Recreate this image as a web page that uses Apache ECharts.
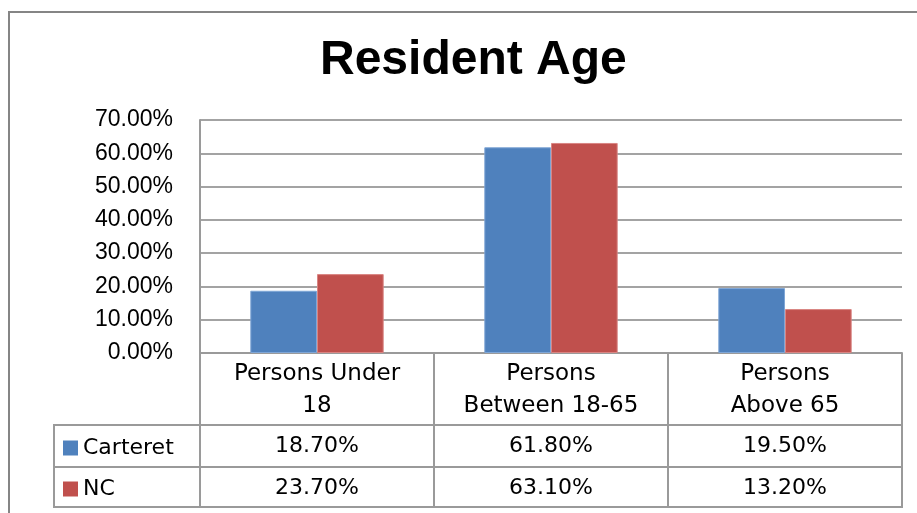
<!DOCTYPE html>
<html>
<head>
<meta charset="utf-8">
<script src="https://cdn.jsdelivr.net/npm/echarts@6/dist/echarts.min.js"></script>
<style>
  html, body { margin: 0; padding: 0; background: #fff; }
  #chart { width: 917px; height: 513px; }
</style>
</head>
<body>
<div id="chart"></div>
<script>
// data
var categories = ['Persons Under\n18', 'Persons\nBetween 18-65', 'Persons\nAbove 65'];
var seriesNames = ['Carteret', 'NC'];
var carteret = [0.187, 0.618, 0.195];
var nc = [0.237, 0.631, 0.132];
var yTicks = [0, 0.1, 0.2, 0.3, 0.4, 0.5, 0.6, 0.7];

var pct = function (v) { return (v * 100).toFixed(2) + '%'; };

// layout of plot + data table
var gridLeft = 200, gridRight = 902, gridTop = 120, gridBottom = 353;
var row1 = 425, row2 = 467, tableBottom = 507, tableLeft = 54;
var lineGray = '#9a9a9a';
var tableFont = '"DejaVu Sans", sans-serif';

var myChart = echarts.init(document.getElementById('chart'));

var option = {
    backgroundColor: '#fff',
    animation: false,
    title: {
        text: 'Resident Age',
        left: 315,
        top: 32,
        textStyle: { fontFamily: '"Liberation Sans", Arial, sans-serif', fontSize: 48, fontWeight: 'bold', color: '#000' }
    },
    legend: {
        data: seriesNames,
        orient: 'vertical',
        left: 63,
        top: 437,
        padding: 0,
        itemWidth: 15,
        itemHeight: 15,
        itemGap: 19,
        icon: 'rect',
        itemStyle: { borderWidth: 0 },
        textStyle: { fontFamily: tableFont, fontSize: 22, color: '#000', lineHeight: 15 }
    },
    grid: {
        left: gridLeft,
        top: gridTop,
        width: gridRight - gridLeft,
        height: gridBottom - gridTop,
        containLabel: false
    },
    xAxis: [{
        type: 'category',
        data: categories,
        axisLine: { lineStyle: { color: lineGray, width: 2 } },
        axisTick: { show: true, length: tableBottom - gridBottom, lineStyle: { color: lineGray, width: 2 } },
        axisLabel: {
            interval: 0,
            margin: 5,
            fontFamily: tableFont,
            fontSize: 23,
            lineHeight: 32,
            color: '#000'
        }
    }, {
        type: 'category',
        data: categories,
        position: 'bottom',
        offset: row1 - gridBottom,
        axisLine: { lineStyle: { color: lineGray, width: 2 } },
        axisTick: { show: false },
        axisLabel: {
            interval: 0, margin: 10, fontFamily: tableFont, fontSize: 22, lineHeight: 22, color: '#000',
            formatter: function (v, i) { return pct(carteret[i]); }
        }
    }, {
        type: 'category',
        data: categories,
        position: 'bottom',
        offset: row2 - gridBottom,
        axisLine: { lineStyle: { color: lineGray, width: 2 } },
        axisTick: { show: false },
        axisLabel: {
            interval: 0, margin: 10, fontFamily: tableFont, fontSize: 22, lineHeight: 22, color: '#000',
            formatter: function (v, i) { return pct(nc[i]); }
        }
    }],
    yAxis: {
        type: 'value',
        min: yTicks[0],
        max: yTicks[yTicks.length - 1],
        interval: 0.1,
        axisLine: { show: true, lineStyle: { color: lineGray, width: 2 } },
        axisTick: { show: false },
        splitLine: { lineStyle: { color: '#858585', width: 1.5 } },
        axisLabel: {
            margin: 27,
            fontFamily: '"Liberation Sans", Arial, sans-serif',
            fontSize: 23,
            color: '#000',
            formatter: pct
        }
    },
    series: [{
        name: seriesNames[0],
        type: 'bar',
        data: carteret,
        barGap: 0,
        barCategoryGap: '43%',
        itemStyle: { color: '#4F81BD', borderColor: '#7fa6d6', borderWidth: 1 }
    }, {
        name: seriesNames[1],
        type: 'bar',
        data: nc,
        itemStyle: { color: '#C0504D', borderColor: '#d98583', borderWidth: 1 }
    }],
    graphic: [
        // outer chart border
        { type: 'rect', shape: { x: 9, y: 12, width: 1000, height: 600 },
          style: { fill: 'none', stroke: '#858585', lineWidth: 2 }, silent: true },
        // legend column of the data table
        { type: 'rect', shape: { x: tableLeft, y: row1, width: gridLeft - tableLeft, height: tableBottom - row1 },
          style: { fill: 'none', stroke: lineGray, lineWidth: 2 }, silent: true },
        { type: 'line', shape: { x1: tableLeft, y1: row2, x2: gridLeft, y2: row2 },
          style: { stroke: lineGray, lineWidth: 2 }, silent: true },
        { type: 'line', shape: { x1: tableLeft, y1: tableBottom, x2: gridRight + 1, y2: tableBottom },
          style: { stroke: lineGray, lineWidth: 2 }, silent: true }
    ]
};

myChart.setOption(option);
</script>
</body>
</html>
